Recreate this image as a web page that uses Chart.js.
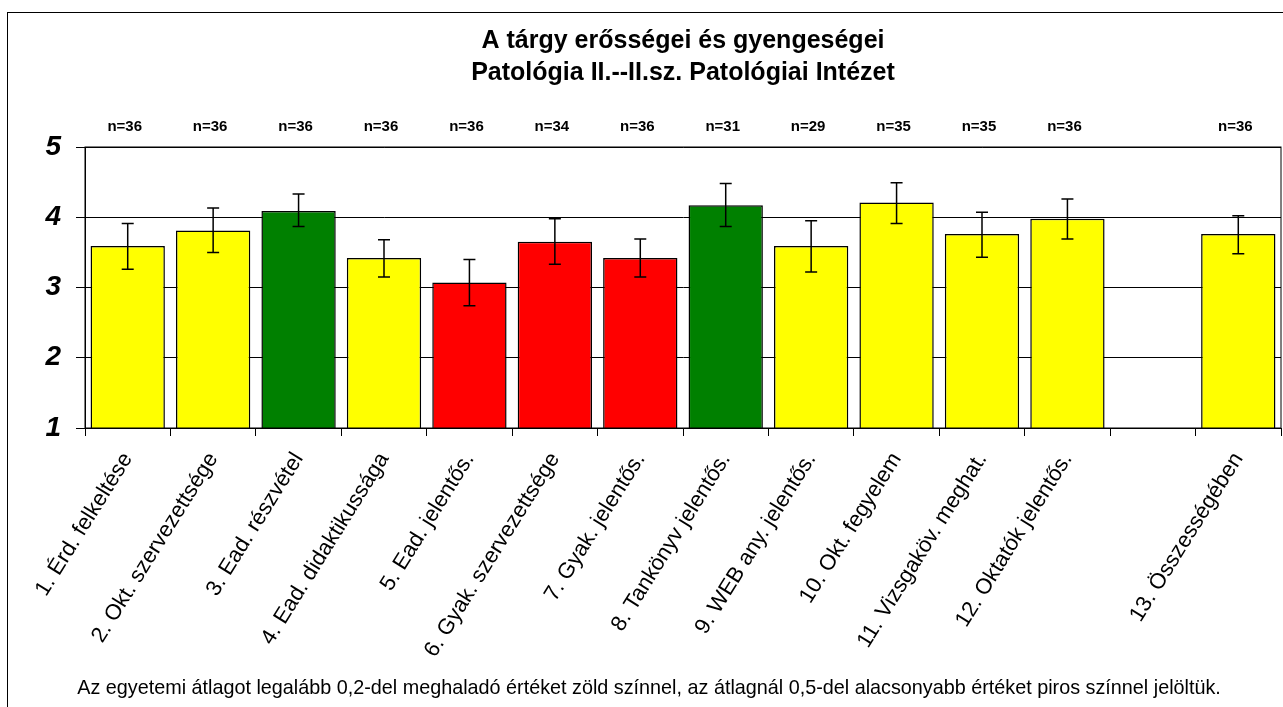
<!DOCTYPE html>
<html>
<head>
<meta charset="utf-8">
<script src="https://cdn.jsdelivr.net/npm/chart.js@4/dist/chart.umd.min.js"></script>
<style>
	html, body { margin: 0; padding: 0; background: #fff; }
	#wrap { width: 1283px; height: 707px; position: relative; }
</style>
</head>
<body>
<div id="wrap"><canvas id="chart0"></canvas></div>
<script>
	// kategóriák (a 13. előtt egy üres hely van)
	const labels = [
		'1. Érd. felkeltése', '2. Okt. szervezettsége', '3. Ead. részvétel',
		'4. Ead. didaktikussága', '5. Ead. jelentős.', '6. Gyak. szervezettsége',
		'7. Gyak. jelentős.', '8. Tankönyv jelentős.', '9. WEB any. jelentős.',
		'10. Okt. fegyelem', '11. Vizsgaköv. meghat.', '12. Oktatók jelentős.',
		'', '13. Összességében'
	];
	const means    = [3.59, 3.81, 4.09, 3.42, 3.07, 3.65, 3.42, 4.17, 3.59, 4.21, 3.76, 3.98, null, 3.76];
	const errLow   = [3.26, 3.50, 3.87, 3.15, 2.74, 3.33, 3.15, 3.87, 3.22, 3.91, 3.43, 3.69, null, 3.48];
	const errHigh  = [3.91, 4.13, 4.33, 3.68, 3.40, 3.98, 3.69, 4.48, 3.95, 4.49, 4.07, 4.26, null, 4.02];
	const counts   = [36, 36, 36, 36, 36, 34, 36, 31, 29, 35, 35, 36, null, 36];
	// 'high' = egyetemi átlag +0,2 felett, 'low' = átlag -0,5 alatt
	const ratings  = ['mid', 'mid', 'high', 'mid', 'low', 'low', 'low', 'high', 'mid', 'mid', 'mid', 'mid', null, 'mid'];
	const yTicks   = [1, 2, 3, 4, 5];

	const titleLines = ['A tárgy erősségei és gyengeségei', 'Patológia II.--II.sz. Patológiai Intézet'];
	const footnote = 'Az egyetemi átlagot legalább 0,2-del meghaladó értéket zöld színnel, az átlagnál 0,5-del alacsonyabb értéket piros színnel jelöltük.';

	const FONT = "'Liberation Sans', Arial, sans-serif";
	const ratingColor = { high: '#008000', mid: '#ffff00', low: '#ff0000' };

	/**
	 * keret, cím, n= feliratok, hibasávok, lábjegyzet
	 */
	const decorPlugin = {
		id: 'decor',
		afterDatasetsDraw(chart) {
			let ctx = chart.ctx;
			let yScale = chart.scales.y;
			let meta = chart.getDatasetMeta(0);
			ctx.save();
			ctx.strokeStyle = '#000';
			ctx.lineWidth = 1.5;
			for (let i = 0; i < means.length; i++) {
				if (errLow[i] == null) continue;
				let x = meta.data[i].x;
				let y1 = yScale.getPixelForValue(errLow[i]);
				let y2 = yScale.getPixelForValue(errHigh[i]);
				ctx.beginPath();
				ctx.moveTo(x, y1); ctx.lineTo(x, y2);
				ctx.moveTo(x - 6, y1); ctx.lineTo(x + 6, y1);
				ctx.moveTo(x - 6, y2); ctx.lineTo(x + 6, y2);
				ctx.stroke();
			}
			ctx.restore();
		},
		afterDraw(chart) {
			let ctx = chart.ctx;
			let area = chart.chartArea;
			ctx.save();
			// külső keret
			ctx.strokeStyle = '#000';
			ctx.lineWidth = 1;
			ctx.strokeRect(7.5, 12.5, 1300, 720);
			// diagram terület kerete
			ctx.strokeRect(area.left, area.top, area.right - area.left, area.bottom - area.top);

			ctx.fillStyle = '#000';
			ctx.textAlign = 'center';
			ctx.textBaseline = 'middle';
			let cx = (area.left + area.right) / 2;
			ctx.font = 'bold 25px ' + FONT;
			ctx.fillText(titleLines[0], cx, 41);
			ctx.fillText(titleLines[1], cx, 73);

			ctx.font = 'bold 15px ' + FONT;
			for (let i = 0; i < counts.length; i++) {
				if (counts[i] == null) continue;
				ctx.fillText('n=' + counts[i], chart.scales.x.getPixelForValue(i) - 3, 127);
			}

			ctx.font = '19.8px ' + FONT;
			ctx.fillText(footnote, 649, 689);
			ctx.restore();
		}
	};

	let config = {
		type: 'bar',
		data: {
			labels: labels,
			datasets: [{
				data: means,
				backgroundColor: ratings.map(r => ratingColor[r] || 'transparent'),
				borderColor: '#000',
				borderWidth: 1.5,
				barPercentage: 0.87,
				categoryPercentage: 1.0
			}]
		},
		options: {
			responsive: true,
			maintainAspectRatio: false,
			animation: false,
			layout: { padding: { top: 147, left: 0, right: 2, bottom: 29 } },
			plugins: {
				legend: { display: false },
				tooltip: { enabled: false },
				title: { display: false }
			},
			scales: {
				x: {
					offset: true,
					grid: {
						offset: true,
						drawOnChartArea: false,
						color: '#000',
						tickLength: 8
					},
					border: { color: '#000', width: 1 },
					ticks: {
						color: '#000',
						autoSkip: false,
						minRotation: 58,
						maxRotation: 58,
						padding: 12,
						font: { family: FONT, size: 22 }
					},
					afterFit(scale) { scale.height = 250; }
				},
				y: {
					min: 1,
					max: 5,
					afterBuildTicks(scale) { scale.ticks = yTicks.map(v => ({ value: v })); },
					grid: { color: '#000', lineWidth: 1, tickLength: 9 },
					border: { color: '#000', width: 1 },
					ticks: {
						color: '#000',
						padding: 15,
						font: { family: FONT, size: 28, weight: 'bold', style: 'italic' }
					},
					afterFit(scale) { scale.width = 85; }
				}
			}
		},
		plugins: [decorPlugin]
	};

	let grapharea = document.getElementById('chart0').getContext('2d');
	window.myChart = new Chart(grapharea, config);
</script>
</body>
</html>
